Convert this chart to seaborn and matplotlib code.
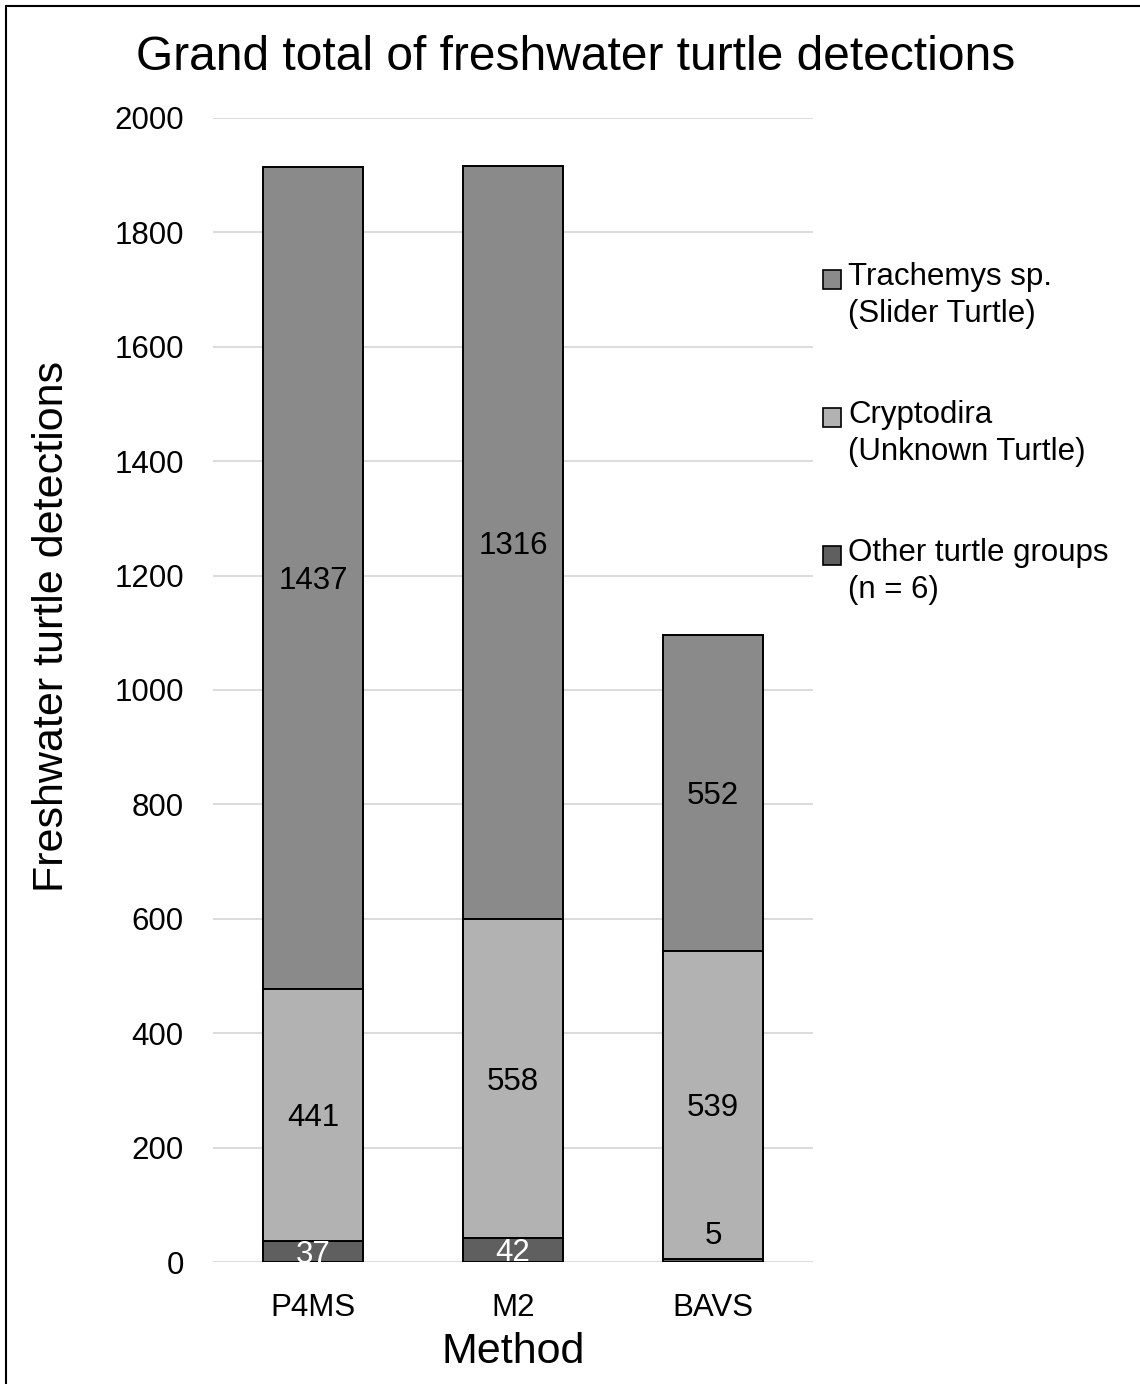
import matplotlib
matplotlib.use("Agg")
import matplotlib.pyplot as plt
from matplotlib.lines import Line2D
from matplotlib.patches import Patch, Rectangle
from matplotlib.legend_handler import HandlerPatch
import pandas as pd
import seaborn as sns

# Detections per survey method, stacked bottom -> top
methods = ["P4MS", "M2", "BAVS"]
other_groups = [37, 42, 5]
cryptodira = [441, 558, 539]
trachemys = [1437, 1316, 552]

series_labels = ["Trachemys sp.\n(Slider Turtle)",
                 "Cryptodira\n(Unknown Turtle)",
                 "Other turtle groups\n(n = 6)"]
y_ticks = list(range(0, 2001, 200))

c_trachemys = "#8a8a8a"
c_crypto = "#b2b2b2"
c_other = "#5f5f5f"

sns.set_theme(style="white")
plt.rcParams["font.family"] = ["Liberation Sans", "DejaVu Sans"]

W, H = 1140, 1384
fig = plt.figure(figsize=(W / 100, H / 100), dpi=100)
ax = fig.add_axes([213 / W, 1 - 1262 / H, 600 / W, (1262 - 118) / H])

df = pd.DataFrame({"method": methods, "other": other_groups,
                   "cryptodira": cryptodira, "trachemys": trachemys})
df["lvl1"] = df["other"]
df["lvl2"] = df["lvl1"] + df["cryptodira"]
df["lvl3"] = df["lvl2"] + df["trachemys"]

# Stacked look: draw cumulative totals from tallest to shortest
for col, colr in [("lvl3", c_trachemys), ("lvl2", c_crypto), ("lvl1", c_other)]:
    sns.barplot(data=df, x="method", y=col, order=methods, color=colr,
                saturation=1, width=0.5, edgecolor="black", linewidth=1.4,
                errorbar=None, ax=ax, zorder=3)

ax.set_xlim(-0.5, 2.5)
ax.set_ylim(0, 2000)
ax.set_yticks(y_ticks)
ax.yaxis.grid(True, color="#d9d9d9", linewidth=1.3)
ax.set_axisbelow(True)
for s in ax.spines.values():
    s.set_visible(False)
ax.tick_params(axis="both", length=0, labelsize=22.5, colors="black")
ax.tick_params(axis="y", pad=21)
ax.tick_params(axis="x", pad=22)

ax.set_xlabel("Method", fontsize=31, color="black")
ax.xaxis.label.set_va("center")
ax.xaxis.set_label_coords(0.5, (1262 - 1352) / 1144)
ax.set_ylabel("Freshwater turtle detections", fontsize=31, color="black")
ax.yaxis.label.set_va("center")
ax.yaxis.label.set_ha("center")
ax.yaxis.set_label_coords((52 - 213) / 600, (1262 - 626) / 1144)

# Segment value labels
for i in range(len(methods)):
    o, c, t = other_groups[i], cryptodira[i], trachemys[i]
    ax.text(i, o + c + t / 2, f"{t}", ha="center", va="center_baseline",
            fontsize=22.5, color="black", zorder=5)
    ax.text(i, o + c / 2, f"{c}", ha="center", va="center_baseline",
            fontsize=22.5, color="black", zorder=5)
    if o >= 20:
        ax.text(i, o / 2, f"{o}", ha="center", va="center_baseline",
                fontsize=22.5, color="white", zorder=5, clip_on=True)
    else:
        ax.annotate(f"{o}", xy=(i, o / 2), xytext=(0, 20),
                    textcoords="offset points", ha="center",
                    va="center_baseline", fontsize=22.5, color="black",
                    zorder=5)

# Legend: square swatch next to the first line of each two-line label
def swatch(legend, orig_handle, xdescent, ydescent, width, height, fontsize):
    return Rectangle((-xdescent, -ydescent + 0.52 * fontsize), width, height)

handles = [Patch(facecolor=c_trachemys, edgecolor="black", linewidth=1.2),
           Patch(facecolor=c_crypto, edgecolor="black", linewidth=1.2),
           Patch(facecolor=c_other, edgecolor="black", linewidth=1.2)]
leg = fig.legend(handles, series_labels, loc="upper left",
                 bbox_to_anchor=(823 / W, 1 - 262 / H), frameon=False,
                 fontsize=22.5, handlelength=0.58, handleheight=0.58,
                 handletextpad=0.22, labelspacing=2.27, borderpad=0,
                 borderaxespad=0, labelcolor="black",
                 handler_map={Patch: HandlerPatch(patch_func=swatch)})
for t in leg.get_texts():
    t.set_linespacing(1.3)

fig.text(0.505, 1 - 58 / H, "Grand total of freshwater turtle detections",
         ha="center", va="center", fontsize=34.5, color="black")

# Frame lines along the top and left edges
fig.add_artist(Line2D([6 / W, 6 / W], [0, 1 - 6 / H], color="black",
                      linewidth=1.5, transform=fig.transFigure))
fig.add_artist(Line2D([6 / W, 1], [1 - 6 / H, 1 - 6 / H], color="black",
                      linewidth=1.5, transform=fig.transFigure))

fig.savefig("out.png", dpi=100, facecolor="white")
